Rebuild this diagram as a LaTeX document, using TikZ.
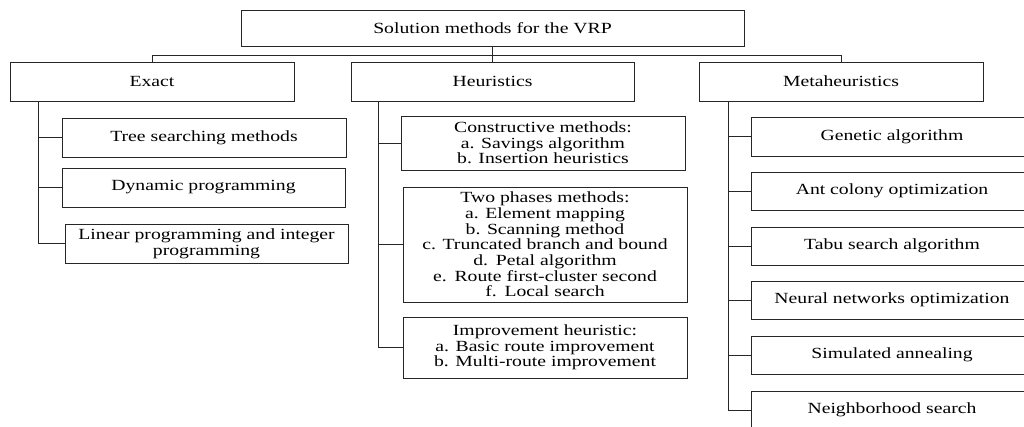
\documentclass[tikz,border=0pt]{standalone}
\usepackage{fontspec}
\setmainfont{Liberation Serif}[FakeStretch=1.27]
\begin{document}
\begin{tikzpicture}[x=1pt,y=-1pt,
  box/.style={draw=black!85, line width=0.9pt, inner sep=0pt, align=center,
    font=\fontsize{15.5}{15.7}\selectfont},
  lnk/.style={draw=black!85, line width=0.9pt}]
\useasboundingbox (0,0) rectangle (1024,426);
\clip (0,0) rectangle (1024,426);
% top
\node[box, minimum width=503pt, minimum height=36pt] (top) at (492.5,28) {Solution methods for the VRP};
% level 1
\node[box, minimum width=284pt, minimum height=39pt] (exact) at (152,81.5) {Exact};
\node[box, minimum width=283pt, minimum height=39pt] (heur) at (492.5,81.5) {Heuristics};
\node[box, minimum width=284pt, minimum height=39pt] (meta) at (841,81.5) {Metaheuristics};
% exact children
\node[box, minimum width=284pt, minimum height=39pt] (tree) at (204,137.5) {Tree searching methods};
\node[box, minimum width=283pt, minimum height=39pt] (dyn) at (203.5,187.5) {Dynamic programming};
\node[box, minimum width=283pt, minimum height=39pt] (lin) at (206.5,243.5) {Linear programming and integer\\programming};
% heuristics children
\node[box, minimum width=284pt, minimum height=54pt] (cons) at (543,143) {Constructive methods:\\a. Savings algorithm\\b. Insertion heuristics};
\node[box, minimum width=284pt, minimum height=115pt] (two) at (545,244.5) {Two phases methods:\\a. Element mapping\\b. Scanning method\\c. Truncated branch and bound\\d.\enspace Petal algorithm\\e.\enspace Route first-cluster second\\f.\enspace Local search};
\node[box, minimum width=284pt, minimum height=61pt] (impr) at (545,347.5) {Improvement heuristic:\\a. Basic route improvement\\b. Multi-route improvement};
% metaheuristics children
\node[box, minimum width=282pt, minimum height=39pt] (ga) at (892,136.5) {Genetic algorithm};
\node[box, minimum width=282pt, minimum height=38pt] (aco) at (892,191) {Ant colony optimization};
\node[box, minimum width=282pt, minimum height=38pt] (tabu) at (892,246) {Tabu search algorithm};
\node[box, minimum width=282pt, minimum height=38pt] (nn) at (892,300) {Neural networks optimization};
\node[box, minimum width=282pt, minimum height=38pt] (sa) at (892,355) {Simulated annealing};
\node[box, minimum width=282pt, minimum height=38pt] (ns) at (892,410) {Neighborhood search};
% bus
\coordinate (bus) at ([yshift=-9pt]top.south);
\draw[lnk] (top.south) -- (bus);
\draw[lnk] (bus) -| (exact.north);
\draw[lnk] (bus) -| (meta.north);
\draw[lnk] (bus) -- (heur.north);
% trunks
\coordinate (et) at ([xshift=29pt]exact.south west);
\coordinate (ht) at ([xshift=28pt]heur.south west);
\coordinate (mt) at ([xshift=30pt]meta.south west);
\draw[lnk] (et) |- (tree.west);
\draw[lnk] (et) |- (dyn.west);
\draw[lnk] (et) |- (lin.west);
\draw[lnk] (ht) |- (cons.west);
\draw[lnk] (ht) |- (two.west);
\draw[lnk] (ht) |- (impr.west);
\draw[lnk] (mt) |- (ga.west);
\draw[lnk] (mt) |- (aco.west);
\draw[lnk] (mt) |- (tabu.west);
\draw[lnk] (mt) |- (nn.west);
\draw[lnk] (mt) |- (sa.west);
\draw[lnk] (mt) |- (ns.west);
\end{tikzpicture}
\end{document}
